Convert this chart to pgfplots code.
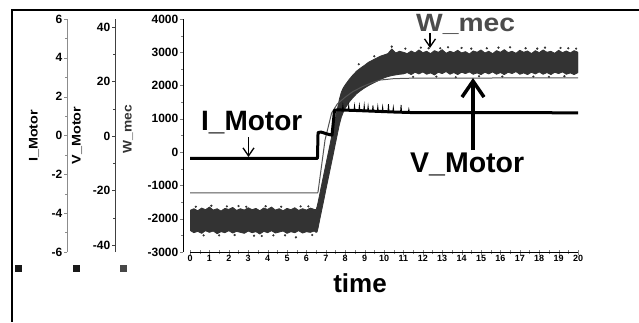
\documentclass[border=0pt]{standalone}
\usepackage{pgfplots}
\pgfplotsset{compat=1.18}
\usetikzlibrary{arrows.meta}
\usepackage{fontspec}
\setmainfont{Liberation Sans}
\definecolor{wcol}{HTML}{333333}
\definecolor{vcol}{HTML}{555555}

\pgfplotsset{
  scalebase/.style={scale only axis, anchor=south west, height=233pt,
    /pgf/number format/assume math mode=true, /pgf/number format/1000 sep={},
    yticklabel style={font=\fontsize{12}{12}\selectfont\bfseries, inner sep=1.5pt},
    ytick align=outside, major tick length=3pt, minor tick length=2pt,
    axis x line=none, axis y line*=left, xmin=0, xmax=1, width=1pt},
  dataover/.style={scale only axis, anchor=south west, at={(190pt,70pt)}, width=388pt, height=233pt,
    xmin=0, xmax=20, hide axis},
}

\begin{document}
\begin{tikzpicture}
\useasboundingbox (0pt,0pt) rectangle (639pt,322pt);
\draw[line width=1.6pt] (12pt,312pt) -- (639pt,312pt);
\draw[line width=1.2pt] (12pt,312.8pt) -- (12pt,0pt);

% I_Motor scale
\begin{axis}[scalebase, at={(67pt,70pt)}, ymin=-6, ymax=6, ytick={-6,-4,...,6}, minor y tick num=1,
  y axis line style={draw=black!45}, ytick style={draw=black!45}]
\addplot[draw=none] coordinates {(0.5,0)};
\end{axis}
% V_Motor scale
\begin{axis}[scalebase, at={(115pt,70pt)}, ymin=-42.6, ymax=42.9, ytick={-40,-20,0,20,40}, minor y tick num=1,
  y axis line style={draw=black!75}, ytick style={draw=black!75}]
\addplot[draw=none] coordinates {(0.5,0)};
\end{axis}
% W_mec scale
\begin{axis}[scalebase, at={(183pt,70pt)}, ymin=-3000, ymax=4000, ytick={-3000,-2000,...,4000}, minor y tick num=1]
\addplot[draw=none] coordinates {(0.5,0)};
\end{axis}

% main axis with W_mec
\begin{axis}[scale only axis, anchor=south west, at={(190pt,70pt)}, width=388pt, height=233pt,
  xmin=0, xmax=20, ymin=-3000, ymax=4000,
  axis x line*=bottom, axis y line=none,
  xtick={0,1,...,20}, minor x tick num=1, xtick align=center,
  major tick length=5pt, minor tick length=4pt,
  /pgf/number format/assume math mode=true,
  xticklabel style={font=\fontsize{9}{9}\selectfont\bfseries, inner sep=1pt}]
\addplot[fill=wcol, draw=wcol, line width=0.8pt, line join=round] coordinates {
(0.0,-1750)(0.2,-1700)(0.4,-1760)(0.6,-1680)(0.8,-1730)(1.0,-1650)(1.2,-1740)(1.4,-1700)(1.6,-1770)(1.8,-1690)
(2.0,-1720)(2.2,-1660)(2.4,-1750)(2.6,-1700)(2.8,-1740)(3.0,-1670)(3.2,-1730)(3.4,-1690)(3.6,-1760)(3.8,-1680)
(4.0,-1720)(4.2,-1650)(4.4,-1740)(4.6,-1700)(4.8,-1760)(5.0,-1690)(5.2,-1730)(5.4,-1670)(5.6,-1750)(5.8,-1700)
(6.0,-1740)(6.2,-1680)(6.4,-1720)(6.5,-1730)(6.55,-1640)(6.6,-1510)(6.7,-1230)(6.8,-940)(6.9,-660)(7.0,-380)
(7.1,-100)(7.2,180)(7.3,470)(7.4,750)(7.5,1030)(7.6,1310)(7.7,1590)(7.8,1800)(7.9,1930)(8.0,2020)
(8.2,2180)(8.4,2320)(8.6,2440)(8.8,2530)(9.0,2610)(9.2,2700)(9.4,2760)(9.6,2820)(9.8,2880)(10.0,2920)
(10.2,2960)(10.4,3100)(10.6,2980)(10.8,3030)(11.0,3000)(11.2,2960)(11.4,3040)(11.6,2980)(11.8,3070)(12.0,2990)
(12.2,3030)(12.4,2960)(12.6,3050)(12.8,3000)(13.0,3080)(13.2,2970)(13.4,3030)(13.6,2990)(13.8,3060)(14.0,2980)
(14.2,3020)(14.4,2950)(14.6,3040)(14.8,3000)(15.0,3070)(15.2,2980)(15.4,3030)(15.6,2960)(15.8,3050)(16.0,3000)
(16.2,3080)(16.4,2990)(16.6,3030)(16.8,2970)(17.0,3060)(17.2,3000)(17.4,3040)(17.6,2960)(17.8,3050)(18.0,2990)
(18.2,3070)(18.4,3000)(18.6,3030)(18.8,2970)(19.0,3060)(19.2,2990)(19.4,3040)(19.6,2980)(19.8,3050)(20.0,3000)
(20.0,2390)(19.8,2330)(19.6,2380)(19.4,2340)(19.2,2410)(19.0,2360)(18.8,2400)(18.6,2330)(18.4,2390)(18.2,2340)
(18.0,2410)(17.8,2350)(17.6,2400)(17.4,2330)(17.2,2380)(17.0,2340)(16.8,2420)(16.6,2360)(16.4,2400)(16.2,2330)
(16.0,2390)(15.8,2340)(15.6,2410)(15.4,2350)(15.2,2400)(15.0,2330)(14.8,2380)(14.6,2340)(14.4,2410)(14.2,2360)
(14.0,2400)(13.8,2330)(13.6,2390)(13.4,2340)(13.2,2420)(13.0,2360)(12.8,2400)(12.6,2320)(12.4,2380)(12.2,2340)
(12.0,2410)(11.8,2350)(11.6,2400)(11.4,2330)(11.2,2390)(11.0,2350)(10.8,2340)(10.6,2320)(10.4,2300)(10.2,2270)
(10.0,2230)(9.8,2180)(9.6,2120)(9.4,2060)(9.2,2000)(9.0,1930)(8.8,1850)(8.6,1760)(8.4,1640)(8.2,1500)
(8.0,1320)(7.9,1200)(7.8,1050)(7.7,830)(7.6,550)(7.5,270)(7.4,-20)(7.3,-300)(7.2,-580)(7.1,-860)
(7.0,-1140)(6.9,-1430)(6.8,-1710)(6.7,-1990)(6.6,-2280)(6.55,-2400)(6.5,-2410)(6.4,-2370)(6.2,-2410)(6.0,-2390)
(5.8,-2430)(5.6,-2360)(5.4,-2420)(5.2,-2390)(5.0,-2440)(4.8,-2370)(4.6,-2400)(4.4,-2430)(4.2,-2360)(4.0,-2420)
(3.8,-2380)(3.6,-2460)(3.4,-2390)(3.2,-2420)(3.0,-2370)(2.8,-2440)(2.6,-2410)(2.4,-2380)(2.2,-2430)(2.0,-2360)
(1.8,-2420)(1.6,-2390)(1.4,-2450)(1.2,-2370)(1.0,-2410)(0.8,-2360)(0.6,-2440)(0.4,-2380)(0.2,-2420)(0.0,-2350)
} -- cycle;
\addplot[only marks, mark=*, mark size=0.9pt, wcol] coordinates {
(1.1,-1610) (2.5,-1620) (3.3,-2510) (4.3,-2500) (5.46,-2560) (0.7,-2500) (6.1,-1630)
(0.3,-1640) (1.9,-1630) (2.9,-1640) (3.9,-1625) (4.7,-1640) (5.7,-1630)
(1.5,-2500) (2.3,-2490) (3.7,-2520) (4.9,-2500) (6.3,-2490)
(8.7,2640) (9.5,2880) (10.4,3170) (12.3,3120) (14.0,3130) (15.9,3140) (17.3,3120) (19.1,3130)
(11.1,3110) (11.9,3140) (12.9,3120) (13.3,3150) (14.5,3110) (15.3,3120) (16.5,3150) (17.9,3110)
(18.3,3140) (19.5,3120) (19.9,3110)
(11.5,2260) (13.7,2250) (16.1,2270) (18.5,2260) (12.7,2270) (14.9,2280) (17.7,2270) (19.3,2280)};
\end{axis}

% V_Motor data
\begin{axis}[dataover, ymin=-42.6, ymax=42.9]
\addplot[vcol, line width=1pt, line join=round] coordinates {
(0,-20.9) (6.58,-20.9) (6.6,-20.5) (6.96,-1.5) (7.3,8.4) (7.6,11.8) (8.0,14.2) (8.4,16.3)
(8.9,18.1) (9.4,19.6) (9.8,20.5) (10.5,21.0) (11.5,21.2) (20,21.3)};
\end{axis}

% I_Motor data
\begin{axis}[dataover, ymin=-6, ymax=6]
\addplot[black, line width=3pt, line join=round] coordinates {
(0,-1.18) (6.57,-1.18) (6.6,0.15) (6.75,0.18) (7.0,0.10) (7.25,0.03) (7.32,0.02) (7.45,1.3)
(7.6,1.32) (8.5,1.29) (9.5,1.25) (10.5,1.21) (11.5,1.18) (20,1.17)};
\addplot[black, line width=0.8pt] coordinates {
(7.85,1.3) (7.88,1.55) (7.91,1.3) (8.15,1.3) (8.18,1.56) (8.21,1.3) (8.45,1.29)
(8.48,1.54) (8.51,1.29) (8.7,1.28) (8.73,1.55) (8.76,1.28) (8.95,1.27) (8.98,1.56) (9.01,1.27)
(9.15,1.26) (9.18,1.52) (9.21,1.26) (9.4,1.25) (9.43,1.55) (9.46,1.25) (9.65,1.24) (9.68,1.5)
(9.71,1.24) (9.9,1.23) (9.93,1.48) (9.96,1.23) (10.2,1.22) (10.23,1.62) (10.26,1.22) (10.45,1.21)
(10.48,1.45) (10.51,1.21) (10.85,1.2) (10.88,1.58) (10.91,1.2) (11.25,1.19) (11.28,1.36) (11.31,1.19)};
\end{axis}

% axis labels
\node[rotate=90, font=\fontsize{12.5}{12.5}\selectfont\bfseries] at (34pt,186pt) {\scalebox{1.15}[1]{I\_Motor}};
\node[rotate=90, font=\fontsize{12.5}{12.5}\selectfont\bfseries] at (77pt,186.5pt) {\scalebox{1.15}[1]{V\_Motor}};
\node[rotate=90, font=\fontsize{12.5}{12.5}\selectfont\bfseries, text=wcol] at (128pt,193pt) {\scalebox{1.1}[1]{W\_mec}};
\node[anchor=base, font=\fontsize{26}{26}\selectfont\bfseries, inner sep=0] at (360pt,30pt) {time};

% legend squares
\fill[black!90] (15pt,50pt) rectangle (22pt,57pt);
\fill[black!90] (73pt,50pt) rectangle (80pt,57pt);
\fill[wcol!90!white] (120pt,50pt) rectangle (127pt,57pt);

% annotations
\node[anchor=base west, inner sep=0, font=\fontsize{28}{28}\selectfont\bfseries] at (201pt,192pt) {I\_Motor};
\draw[line width=1.3pt, -{Straight Barb[length=8pt, width=11pt]}] (248.5pt,185pt) -- (248.5pt,165pt);
\node[anchor=base west, inner sep=0, font=\fontsize{25}{25}\selectfont\bfseries, text=black!70] at (416pt,290pt) {\scalebox{1.13}[1]{W\_mec}};
\draw[line width=1.3pt, -{Straight Barb[length=8pt, width=11pt]}] (430pt,289pt) -- (430pt,274pt);
\draw[line width=3.5pt, -{Straight Barb[length=16pt, width=22pt]}] (473pt,172pt) -- (473pt,244pt);
\node[anchor=base west, inner sep=0, font=\fontsize{28.5}{28.5}\selectfont\bfseries] at (410pt,150pt) {V\_Motor};
\end{tikzpicture}
\end{document}
